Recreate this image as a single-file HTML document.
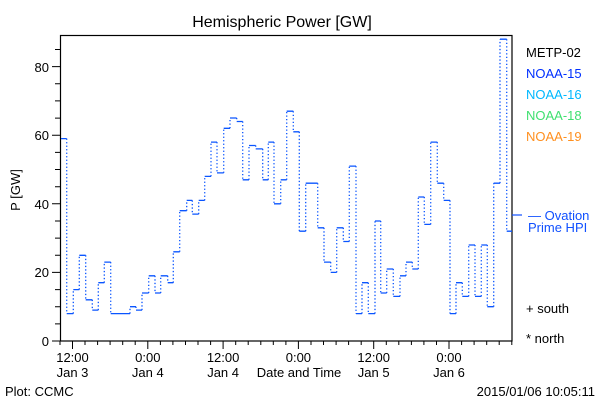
<!DOCTYPE html>
<html><head><meta charset="utf-8"><style>
html,body{margin:0;padding:0;background:#fff;}
svg text{font-family:"Liberation Sans",sans-serif;}
</style></head><body>
<svg width="600" height="400" viewBox="0 0 600 400" xmlns="http://www.w3.org/2000/svg">
<rect width="600" height="400" fill="#fff"/>
<text x="282" y="27" font-size="16" text-anchor="middle">Hemispheric Power [GW]</text>
<rect x="60.5" y="35.5" width="451.5" height="305.5" fill="none" stroke="#000" stroke-width="1.2"/>
<g stroke="#000" stroke-width="1">
<path d="M60 341H52M60 272.4H52M60 203.8H52M60 135.2H52M60 66.6H52"/>
<path d="M60 323.9H55M60 306.7H55M60 289.6H55M60 255.3H55M60 238.1H55M60 221H55M60 186.7H55M60 169.5H55M60 152.4H55M60 118.1H55M60 100.9H55M60 83.8H55M60 49.5H55"/>
<path d="M72.5 341V349M147.8 341V349M223.1 341V349M298.4 341V349M373.7 341V349M449 341V349"/>
<path d="M60 341V345M85 341V345M97.6 341V345M110.1 341V345M122.7 341V345M135.2 341V345M160.4 341V345M172.9 341V345M185.5 341V345M198 341V345M210.6 341V345M235.7 341V345M248.2 341V345M260.8 341V345M273.3 341V345M285.9 341V345M311 341V345M323.5 341V345M336.1 341V345M348.6 341V345M361.2 341V345M386.3 341V345M398.8 341V345M411.4 341V345M423.9 341V345M436.5 341V345M461.6 341V345M474.1 341V345M486.7 341V345M499.2 341V345M511.8 341V345"/>
</g>
<g font-size="13" text-anchor="end">
<text x="49" y="346">0</text><text x="49" y="277">20</text><text x="49" y="209">40</text><text x="49" y="140">60</text><text x="49" y="72">80</text>
</g>
<text transform="translate(20,190) rotate(-90)" font-size="13" text-anchor="middle">P [GW]</text>
<g font-size="13" text-anchor="middle">
<text x="72.5" y="362">12:00</text><text x="72.5" y="377">Jan 3</text>
<text x="147.8" y="362">0:00</text><text x="147.8" y="377">Jan 4</text>
<text x="223.1" y="362">12:00</text><text x="223.1" y="377">Jan 4</text>
<text x="298.4" y="362">0:00</text>
<text x="373.7" y="362">12:00</text><text x="373.7" y="377">Jan 5</text>
<text x="449" y="362">0:00</text><text x="449" y="377">Jan 6</text>
<text x="299" y="377">Date and Time</text>
</g>
<text x="5" y="396" font-size="13">Plot: CCMC</text>
<text x="595" y="396" font-size="13" text-anchor="end">2015/01/06 10:05:11</text>
<g font-size="13">
<text x="526" y="57" fill="#000">METP-02</text>
<text x="526" y="78" fill="#0030ff">NOAA-15</text>
<text x="526" y="99" fill="#00b8ff">NOAA-16</text>
<text x="526" y="120" fill="#40e070">NOAA-18</text>
<text x="526" y="141" fill="#ff9020">NOAA-19</text>
<text x="528" y="220" fill="#1050ff">— Ovation</text>
<text x="528" y="232" fill="#1050ff">Prime HPI</text>
<text x="526" y="313" fill="#000">+ south</text>
<text x="526" y="343" fill="#000">* north</text>
</g>
<path d="M512 215H522" stroke="#1050ff" stroke-width="1.2"/>
<path fill="none" stroke="#0a55ff" stroke-width="1.3" d="M61 138.6H66.7M66.7 313.6H73.3M73.3 289.6H79.3M79.3 255.3H85.7M85.7 299.8H92.3M92.3 310.1H98.3M98.3 282.7H104.3M104.3 262.1H110.7M110.7 313.6H130M130 306.7H136M136 310.1H142M142 293H148.7M148.7 275.8H155M155 293H160.7M160.7 275.8H167.7M167.7 282.7H173.3M173.3 251.8H179.7M179.7 210.7H186.7M186.7 200.4H192.3M192.3 214.1H198.7M198.7 200.4H204.7M204.7 176.4H211M211 142.1H217M217 172.9H223.7M223.7 128.3H230M230 118H236.7M236.7 121.5H242.7M242.7 179.8H249M249 145.5H255.7M255.7 148.9H262.7M262.7 179.8H268.3M268.3 142.1H274M274 203.8H280.7M280.7 179.8H286.7M286.7 111.2H293.3M293.3 131.8H299.3M299.3 231.2H305.7M305.7 183.2H317.7M317.7 227.8H324M324 262.1H330.7M330.7 272.4H336.7M336.7 227.8H343.3M343.3 241.5H349.3M349.3 166.1H356M356 313.6H362M362 282.7H368.3M368.3 313.6H375M375 221H380.7M380.7 293H386.7M386.7 269H393.3M393.3 296.4H400M400 275.8H406M406 262.1H412.3M412.3 269H418.3M418.3 197H424.3M424.3 224.4H430.7M430.7 142.1H437.3M437.3 183.2H443.7M443.7 200.4H450M450 313.6H456M456 282.7H462.3M462.3 296.4H468.7M468.7 245H475M475 296.4H481.3M481.3 245H487.3M487.3 306.7H493.7M493.7 183.2H500M500 39.2H506.7M506.7 231.2H512"/>
<path fill="none" stroke="#0a55ff" stroke-width="1.3" stroke-dasharray="1.3,2.2" d="M66.7 138.6V313.6M73.3 313.6V289.6M79.3 289.6V255.3M85.7 255.3V299.8M92.3 299.8V310.1M98.3 310.1V282.7M104.3 282.7V262.1M110.7 262.1V313.6M130 313.6V306.7M136 306.7V310.1M142 310.1V293M148.7 293V275.8M155 275.8V293M160.7 293V275.8M167.7 275.8V282.7M173.3 282.7V251.8M179.7 251.8V210.7M186.7 210.7V200.4M192.3 200.4V214.1M198.7 214.1V200.4M204.7 200.4V176.4M211 176.4V142.1M217 142.1V172.9M223.7 172.9V128.3M230 128.3V118M236.7 118V121.5M242.7 121.5V179.8M249 179.8V145.5M255.7 145.5V148.9M262.7 148.9V179.8M268.3 179.8V142.1M274 142.1V203.8M280.7 203.8V179.8M286.7 179.8V111.2M293.3 111.2V131.8M299.3 131.8V231.2M305.7 231.2V183.2M317.7 183.2V227.8M324 227.8V262.1M330.7 262.1V272.4M336.7 272.4V227.8M343.3 227.8V241.5M349.3 241.5V166.1M356 166.1V313.6M362 313.6V282.7M368.3 282.7V313.6M375 313.6V221M380.7 221V293M386.7 293V269M393.3 269V296.4M400 296.4V275.8M406 275.8V262.1M412.3 262.1V269M418.3 269V197M424.3 197V224.4M430.7 224.4V142.1M437.3 142.1V183.2M443.7 183.2V200.4M450 200.4V313.6M456 313.6V282.7M462.3 282.7V296.4M468.7 296.4V245M475 245V296.4M481.3 296.4V245M487.3 245V306.7M493.7 306.7V183.2M500 183.2V39.2M506.7 39.2V231.2"/>
</svg>
</body></html>
